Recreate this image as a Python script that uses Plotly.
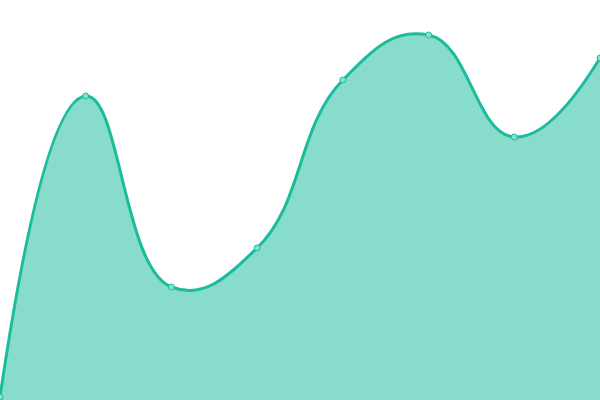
import plotly.graph_objects as go

x_vals = [0, 1, 2, 3, 4, 5, 6, 7]
y_vals = [3, 304, 113, 152, 320, 365, 263, 342]

fig = go.Figure()
fig.add_trace(go.Scatter(
    x=x_vals, y=y_vals, mode="lines+markers",
    line=dict(color="#1abc9c", width=3, shape="spline", smoothing=1.3),
    marker=dict(size=6, color="#88e0cf", line=dict(color="#1abc9c", width=1)),
    fill="tozeroy", fillcolor="rgba(26,188,156,0.52)",
    hoverinfo="skip",
))
fig.update_layout(
    width=600, height=400,
    margin=dict(l=0, r=0, t=0, b=0),
    paper_bgcolor="white", plot_bgcolor="white",
    showlegend=False,
    xaxis=dict(range=[0, 7], visible=False, fixedrange=True),
    yaxis=dict(range=[0, 400], visible=False, fixedrange=True),
)
fig.write_html("out.html", config={"displayModeBar": False},
               post_script="document.body.style.margin='0';document.body.style.overflow='hidden';")
